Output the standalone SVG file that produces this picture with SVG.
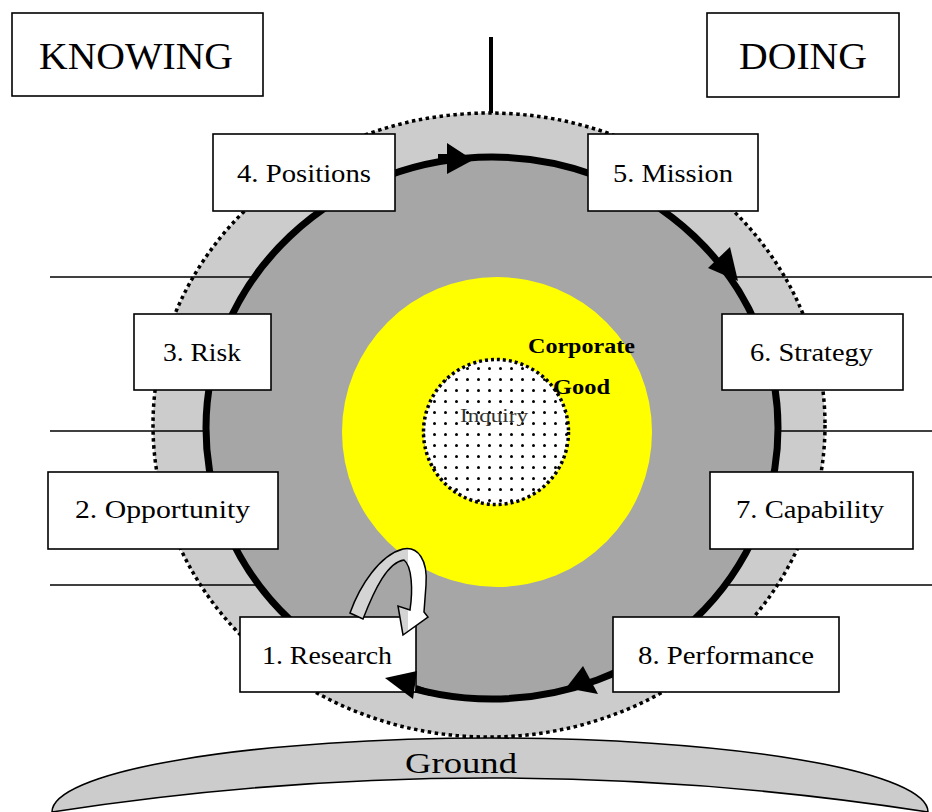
<svg xmlns="http://www.w3.org/2000/svg" width="932" height="812" viewBox="0 0 932 812">
<defs>
<style>
.box{fill:#fff;stroke:#000;stroke-width:1.6}
.lbl{font-family:"Liberation Serif","Times New Roman",serif;font-size:25px;fill:#000;text-anchor:start}
.big{font-family:"Liberation Serif","Times New Roman",serif;font-size:38px;fill:#000}
.hline{stroke:#000;stroke-width:1.4}
.arrowhead{fill:#000}
</style>
<pattern id="dots" width="11" height="11" patternUnits="userSpaceOnUse">
<rect width="11" height="11" fill="#fff"/>
<circle cx="5.5" cy="5.5" r="1.5" fill="#000"/>
</pattern>
<linearGradient id="hollow" gradientUnits="userSpaceOnUse" x1="340" y1="0" x2="430" y2="0">
<stop offset="0" stop-color="#d4d4d4"/>
<stop offset="0.75" stop-color="#d4d4d4"/>
<stop offset="0.75" stop-color="#ffffff"/>
<stop offset="1" stop-color="#ffffff"/>
</linearGradient>
</defs>
<rect width="932" height="812" fill="#fff"/>

<g id="background">
<line x1="491" y1="37" x2="491" y2="114" stroke="#000" stroke-width="4"/>
<ellipse cx="489" cy="425" rx="336" ry="312" fill="#cccccc" stroke="#000" stroke-width="3.5" stroke-dasharray="3.5 3.5"/>
<line class="hline" x1="50" y1="277" x2="932" y2="277"/>
<line class="hline" x1="50" y1="431" x2="932" y2="431"/>
<line class="hline" x1="50" y1="585" x2="932" y2="585"/>
<ellipse cx="492" cy="428" rx="286" ry="271" fill="#a6a6a6" stroke="#000" stroke-width="7"/>
<circle cx="497" cy="432" r="155" fill="#ffff00"/>
<circle cx="496" cy="432" r="72.5" fill="url(#dots)" stroke="#000" stroke-width="3.5" stroke-dasharray="3 3"/>
<text x="460" y="422" font-family="'Liberation Serif','Times New Roman',serif" font-size="18" fill="#333" textLength="68" lengthAdjust="spacingAndGlyphs">Inquiry</text>
<text x="528" y="353" font-family="'Liberation Serif','Times New Roman',serif" font-size="21" font-weight="bold" fill="#000" textLength="107" lengthAdjust="spacingAndGlyphs">Corporate</text>
<text x="553" y="394" font-family="'Liberation Serif','Times New Roman',serif" font-size="21" font-weight="bold" fill="#000" textLength="57" lengthAdjust="spacingAndGlyphs">Good</text>
</g>

<g id="ground">
<path d="M 52 812 A 438 74 0 0 1 928 812 Q 490 744 52 812 Z" fill="#cccccc" stroke="#000" stroke-width="1.6"/>
<text x="405" y="773" font-family="'Liberation Serif','Times New Roman',serif" font-size="30" fill="#000" textLength="112" lengthAdjust="spacingAndGlyphs">Ground</text>
</g>

<g id="knowing">
<rect class="box" x="12" y="13" width="251" height="83"/>
<text class="big" x="39" y="69" textLength="194" lengthAdjust="spacingAndGlyphs">KNOWING</text>
</g>
<g id="doing">
<rect class="box" x="707" y="13" width="192" height="84"/>
<text class="big" x="739" y="69" textLength="128" lengthAdjust="spacingAndGlyphs">DOING</text>
</g>

<g id="n4">
<rect class="box" x="213" y="134" width="182" height="77"/>
<text class="lbl" x="237" y="182" textLength="134" lengthAdjust="spacingAndGlyphs">4. Positions</text>
</g>
<g id="n5">
<rect class="box" x="588" y="134" width="170" height="77"/>
<text class="lbl" x="613" y="182" textLength="120" lengthAdjust="spacingAndGlyphs">5. Mission</text>
</g>
<g id="n3">
<rect class="box" x="134" y="314" width="137" height="76"/>
<text class="lbl" x="163" y="361" textLength="78" lengthAdjust="spacingAndGlyphs">3. Risk</text>
</g>
<g id="n6">
<rect class="box" x="722" y="314" width="181" height="76"/>
<text class="lbl" x="750" y="361" textLength="123" lengthAdjust="spacingAndGlyphs">6. Strategy</text>
</g>
<g id="n2">
<rect class="box" x="48" y="472" width="230" height="77"/>
<text class="lbl" x="75" y="518" textLength="175" lengthAdjust="spacingAndGlyphs">2. Opportunity</text>
</g>
<g id="n7">
<rect class="box" x="710" y="472" width="203" height="77"/>
<text class="lbl" x="736" y="518" textLength="148" lengthAdjust="spacingAndGlyphs">7. Capability</text>
</g>
<g id="n1">
<rect class="box" x="240" y="617" width="176" height="75"/>
<text class="lbl" x="262" y="664" textLength="130" lengthAdjust="spacingAndGlyphs">1. Research</text>
</g>
<g id="n8">
<rect class="box" x="613" y="617" width="226" height="75"/>
<text class="lbl" x="638" y="664" textLength="176" lengthAdjust="spacingAndGlyphs">8. Performance</text>
</g>

<g id="connectors">
<polygon class="arrowhead" points="447,143 447,174 473,160"/>
<rect x="438" y="154" width="10" height="8" fill="#000"/>
<polygon class="arrowhead" points="730,247 708,268 738,281"/>
<polygon class="arrowhead" points="583,666 598,694 566,688"/>
<path d="M 416 688 L 430 693" stroke="#000" stroke-width="6"/>
<polygon class="arrowhead" points="417,671 413,699 385,678"/>
<path d="M 350 613 C 360 585 380 555 403 549 C 418 546 428 560 426 585 L 424 612 L 428 617 L 403 635 L 398 606 L 410 610 C 413 590 412 566 404 560 C 388 562 375 588 363 619 Z" fill="url(#hollow)" stroke="#000" stroke-width="1.5" stroke-linejoin="miter"/>
</g>
</svg>
